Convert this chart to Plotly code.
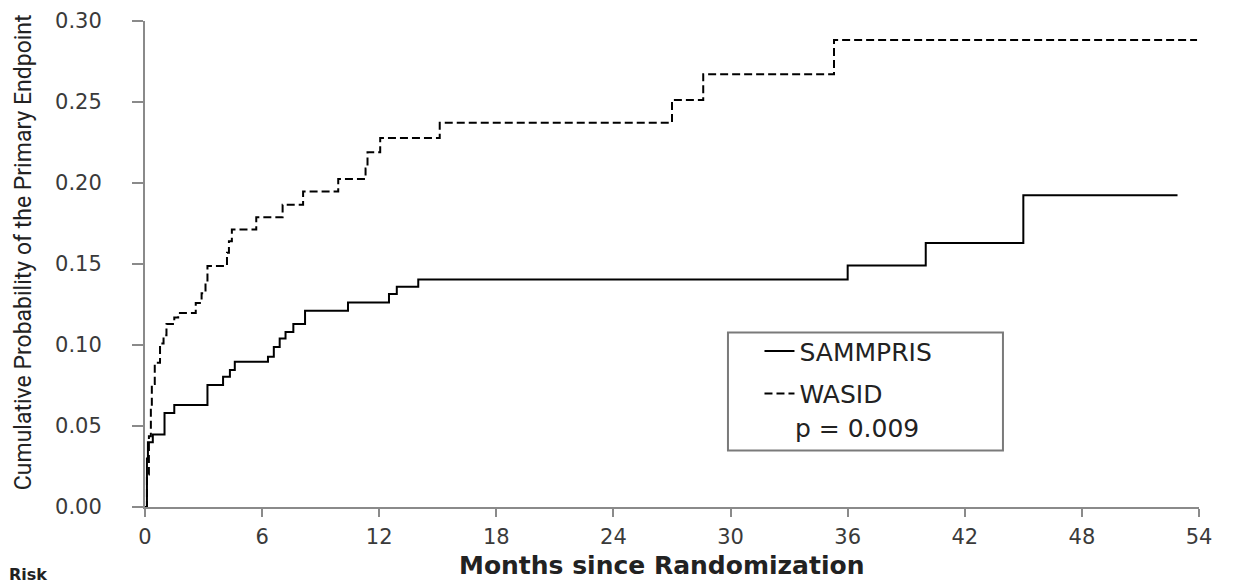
import plotly.graph_objects as go

# ---- data ----
sammpris_months = [0, 0.1, 0.15, 0.4, 1.0, 1.5, 3.2, 4.0, 4.35, 4.6, 6.3, 6.6, 6.9, 7.2,
                   7.6, 8.2, 10.4, 12.5, 12.9, 14.0, 36.0, 40.0, 45.0, 52.9]
sammpris_prob = [0.0, 0.030, 0.040, 0.0447, 0.058, 0.063, 0.0753, 0.0804, 0.0845, 0.0896,
                 0.0927, 0.0988, 0.104, 0.108, 0.113, 0.1212, 0.1263, 0.1315, 0.136, 0.1405,
                 0.149, 0.163, 0.1925, 0.1925]

wasid_months = [0, 0.1, 0.2, 0.3, 0.35, 0.5, 0.77, 0.95, 1.1, 1.5, 1.7, 2.6, 2.9, 3.1, 3.2,
                4.2, 4.3, 4.45, 5.7, 7.05, 8.1, 9.9, 11.3, 11.4, 12.05, 15.1, 27.0, 28.6,
                35.3, 53.9]
wasid_prob = [0.0, 0.020, 0.0437, 0.060, 0.076, 0.089, 0.101, 0.106, 0.113, 0.117, 0.1198,
              0.126, 0.132, 0.138, 0.1488, 0.157, 0.164, 0.1713, 0.1788, 0.1866, 0.1947,
              0.2025, 0.209, 0.219, 0.2278, 0.2372, 0.2513, 0.2672, 0.2882, 0.2882]

x_ticks = [0, 6, 12, 18, 24, 30, 36, 42, 48, 54]
y_ticks = [0.00, 0.05, 0.10, 0.15, 0.20, 0.25, 0.30]
x_title = "<b>Months since Randomization</b>"
y_title = "Cumulative Probability of the Primary Endpoint"
p_value_text = "p = 0.009"

FONT = "DejaVu Sans, Verdana, sans-serif"
TICK_FONT = dict(family=FONT, size=21, color="#3a3a3a")
AXIS_GRAY = "#8a8a8a"

fig = go.Figure()
fig.add_trace(go.Scatter(
    x=sammpris_months, y=sammpris_prob, name="SAMMPRIS", mode="lines",
    line=dict(color="black", width=2, shape="hv"), legendgroup="s"))
fig.add_trace(go.Scatter(
    x=wasid_months, y=wasid_prob, name="WASID", mode="lines",
    line=dict(color="black", width=2, shape="hv", dash="8px,4px"), legendgroup="w"))

# the page body adds an 8px offset, margins compensate for it
fig.update_layout(
    width=1238, height=585,
    margin=dict(l=137, r=47, t=13, b=86),
    plot_bgcolor="white", paper_bgcolor="white",
    showlegend=True,
    legend=dict(x=0.583, y=0.368, xanchor="left", yanchor="top",
                bgcolor="rgba(0,0,0,0)", borderwidth=0,
                font=dict(family=FONT, size=25, color="#222"),
                tracegroupgap=7, itemwidth=30),
)
fig.update_xaxes(
    range=[0, 54], tickvals=x_ticks, ticktext=[str(v) for v in x_ticks],
    showline=True, linecolor=AXIS_GRAY, linewidth=2, ticks="outside", ticklen=8,
    tickcolor=AXIS_GRAY, tickwidth=2, showgrid=False, zeroline=False,
    tickfont=TICK_FONT, ticklabelstandoff=2, automargin=False,
    ticklabeloverflow="allow",
)
fig.update_yaxes(
    range=[0, 0.30], tickvals=y_ticks, tickformat=".2f",
    showline=True, linecolor=AXIS_GRAY, linewidth=2, ticks="outside", ticklen=11,
    tickcolor=AXIS_GRAY, tickwidth=2, showgrid=False, zeroline=False,
    tickfont=TICK_FONT, ticklabelstandoff=26, automargin=False,
    ticklabeloverflow="allow",
)

# axis titles
fig.add_annotation(xref="paper", yref="paper", x=0.4896, y=-0.121,
                   text=x_title, showarrow=False, xanchor="center", yanchor="middle",
                   font=dict(family=FONT, size=25, color="#222"))
fig.add_annotation(xref="paper", yref="paper", x=-0.1157, y=0.5245,
                   text=y_title, showarrow=False, textangle=-90,
                   xanchor="center", yanchor="middle",
                   font=dict(family="Liberation Sans Narrow, Arial Narrow, Roboto, sans-serif",
                             size=23, color="#222"))

# legend box (text box style) and p-value
fig.add_shape(type="rect", xref="paper", yref="paper",
              x0=0.5531, x1=0.8140, y0=0.1163, y1=0.3592,
              line=dict(color="#7a7a7a", width=2), fillcolor="rgba(0,0,0,0)")
fig.add_annotation(xref="paper", yref="paper", x=0.6755, y=0.1612,
                   text=p_value_text, showarrow=False, xanchor="center", yanchor="middle",
                   font=dict(family=FONT, size=25, color="#222"))
# "Risk" text at bottom left
fig.add_annotation(xref="paper", yref="paper", x=-0.131, y=-0.115,
                   text="<b>Risk</b>", showarrow=False, xanchor="left", yanchor="top",
                   font=dict(family=FONT, size=16, color="#222"))

fig.write_html("out.html")
